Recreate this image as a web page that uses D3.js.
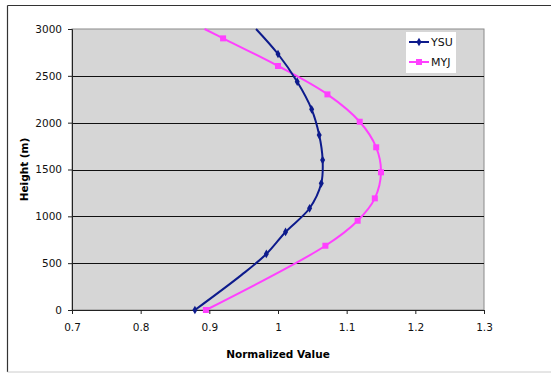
<!DOCTYPE html>
<html>
<head>
<meta charset="utf-8">
<script src="https://cdn.jsdelivr.net/npm/d3@7"></script>
<style>
  body { margin: 0; background: #fff; }
  svg { display: block; font-family: "DejaVu Sans", Verdana, sans-serif; }
</style>
</head>
<body>
<div id="chart"></div>
<script>
// chart data
const ysuValue  = [0.879, 0.947, 0.983, 1.011, 1.046, 1.063, 1.065, 1.060, 1.049, 1.028, 1.000, 0.968];
const ysuHeight = [0, 375, 598, 833, 1086, 1352, 1601, 1868, 2143, 2437, 2733, 3000];
const myjValue  = [0.895, 1.069, 1.116, 1.141, 1.150, 1.143, 1.119, 1.072, 1.000, 0.920, 0.893];
const myjHeight = [0, 686, 953, 1192, 1470, 1737, 2010, 2302, 2605, 2900, 3000];
const xTicks = [0.7, 0.8, 0.9, 1.0, 1.1, 1.2, 1.3];
const yTicks = [0, 500, 1000, 1500, 2000, 2500, 3000];
const seriesNames = ["YSU", "MYJ"];

const width = 551, height = 373;
const margin = {top: 29, right: 67, bottom: 63, left: 72};

const svg = d3.select("#chart")
  .append("svg")
  .attr("width", width)
  .attr("height", height);

// outer chart frame
svg.append("line").attr("x1", 7.5).attr("y1", 5.5).attr("x2", width).attr("y2", 5.5)
  .attr("stroke", "#333").attr("stroke-width", 1.2);
svg.append("line").attr("x1", 7.5).attr("y1", 5.5).attr("x2", 7.5).attr("y2", 372)
  .attr("stroke", "#333").attr("stroke-width", 1.2);
svg.append("line").attr("x1", 7.5).attr("y1", 372).attr("x2", width).attr("y2", 372)
  .attr("stroke", "#ccc");

const x = d3.scaleLinear()
  .domain([0.7, 1.3])
  .range([margin.left, width - margin.right]);

const y = d3.scaleLinear()
  .domain([0, 3000])
  .range([height - margin.bottom, margin.top]);

// plot background
svg.append("rect")
  .attr("x", x(0.7)).attr("y", y(3000))
  .attr("width", x(1.3) - x(0.7)).attr("height", y(0) - y(3000))
  .attr("fill", "#d6d6d6")
  .attr("stroke", "#8a8a8a");

// gridlines
svg.append("g")
  .selectAll("line")
  .data(yTicks.filter(d => d > 0 && d < 3000))
  .enter()
  .append("line")
  .attr("x1", x(0.7)).attr("x2", x(1.3))
  .attr("y1", d => Math.round(y(d)) + 0.5)
  .attr("y2", d => Math.round(y(d)) + 0.5)
  .attr("stroke", "#111");

// x axis
svg.append("g")
  .attr("transform", `translate(0,${y(0)})`)
  .call(d3.axisBottom(x).tickValues(xTicks).tickSize(4).tickPadding(10)
    .tickFormat(d => d === 1 ? "1" : d3.format(".1f")(d)))
  .call(g => g.select(".domain").attr("stroke", "#222"))
  .call(g => g.selectAll(".tick line").attr("stroke", "#222"))
  .call(g => g.selectAll(".tick text").attr("font-size", "10.5px").attr("fill", "#111")
    .attr("font-family", "DejaVu Sans, Verdana, sans-serif"));

// y axis
svg.append("g")
  .attr("transform", `translate(${x(0.7)},0)`)
  .call(d3.axisLeft(y).tickValues(yTicks).tickSize(4).tickPadding(6).tickFormat(d3.format("d")))
  .call(g => g.select(".domain").attr("stroke", "#222"))
  .call(g => g.selectAll(".tick line").attr("stroke", "#222"))
  .call(g => g.selectAll(".tick text").attr("font-size", "10.5px").attr("fill", "#111")
    .attr("font-family", "DejaVu Sans, Verdana, sans-serif"));

// axis titles
svg.append("text")
  .attr("x", (x(0.7) + x(1.3)) / 2)
  .attr("y", 358)
  .attr("text-anchor", "middle")
  .attr("font-size", "10.5px")
  .attr("font-weight", "bold")
  .text("Normalized Value");

svg.append("text")
  .attr("transform", `translate(28,${(y(0) + y(3000)) / 2}) rotate(-90)`)
  .attr("text-anchor", "middle")
  .attr("font-size", "10.5px")
  .attr("font-weight", "bold")
  .text("Height (m)");

// series lines
const ysu = ysuValue.map((v, i) => ({v: v, h: ysuHeight[i]}));
const myj = myjValue.map((v, i) => ({v: v, h: myjHeight[i]}));

const line = d3.line()
  .x(d => x(d.v))
  .y(d => y(d.h))
  .curve(d3.curveCatmullRom.alpha(0.5));

const ysuColor = "#0d1b8c", myjColor = "#ff40ff";

svg.append("path")
  .datum(myj)
  .attr("d", line)
  .attr("fill", "none")
  .attr("stroke", myjColor)
  .attr("stroke-width", 2);

svg.append("path")
  .datum(ysu)
  .attr("d", line)
  .attr("fill", "none")
  .attr("stroke", ysuColor)
  .attr("stroke-width", 2);

// markers
svg.append("g")
  .selectAll("rect")
  .data(myj.filter(d => d.h < 3000))
  .enter()
  .append("rect")
  .attr("x", d => x(d.v) - 3).attr("y", d => y(d.h) - 3)
  .attr("width", 6).attr("height", 6)
  .attr("fill", myjColor);

const diamond = d3.symbol().type(d3.symbolDiamond).size(22);
svg.append("g")
  .selectAll("path")
  .data(ysu.filter(d => d.h < 3000 && d.h !== 375))
  .enter()
  .append("path")
  .attr("transform", d => `translate(${x(d.v)},${y(d.h)})`)
  .attr("d", diamond)
  .attr("fill", ysuColor);

// legend
const legend = svg.append("g").attr("transform", "translate(406,32)");
legend.append("rect")
  .attr("width", 50).attr("height", 41)
  .attr("fill", "#fff");

seriesNames.forEach((name, i) => {
  const ly = 10 + i * 20;
  const col = i === 0 ? ysuColor : myjColor;
  legend.append("line")
    .attr("x1", 3).attr("x2", 23).attr("y1", ly).attr("y2", ly)
    .attr("stroke", col).attr("stroke-width", 2);
  if (i === 0) {
    legend.append("path").attr("transform", `translate(13,${ly})`).attr("d", diamond).attr("fill", col);
  } else {
    legend.append("rect").attr("x", 10).attr("y", ly - 3).attr("width", 6).attr("height", 6).attr("fill", col);
  }
  legend.append("text")
    .attr("x", 25).attr("y", ly + 4)
    .attr("font-size", "11px")
    .attr("fill", "#111")
    .text(name);
});
</script>
</body>
</html>
